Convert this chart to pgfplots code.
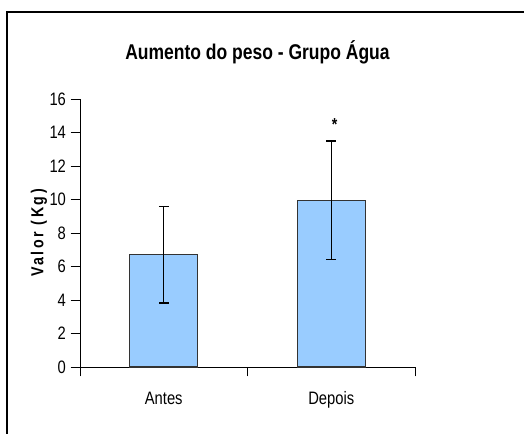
\documentclass[border=0pt]{standalone}
\usepackage{pgfplots}
\pgfplotsset{compat=1.18}
\usepackage{fontspec}
\setmainfont{Liberation Sans}[FakeStretch=0.82]
\definecolor{barblue}{HTML}{99CCFF}
\begin{document}
\begin{tikzpicture}[x=1pt,y=1pt]
\useasboundingbox (0,0) rectangle (393,325.5);
\draw[line width=1.1pt] (5.25,-5) -- (5.25,316.5) -- (400,316.5);
\node[font=\fontsize{16}{18}\selectfont\bfseries] at (193.1,286.5) {Aumento do peso - Grupo Água};
\begin{axis}[
  at={(60pt,50.25pt)}, anchor=origin,
  width=251.25pt, height=201pt, scale only axis,
  xmin=0, xmax=2, ymin=0, ymax=16,
  axis x line*=bottom, axis y line*=left,
  axis line style={black, line width=0.7pt},
  ytick={0,2,...,16},
  xtick={0.5,1.5}, xticklabels={Antes,Depois},
  minor xtick={0,1,2},
  major x tick style={draw=none},
  tick align=outside,
  major tick length=7pt, minor tick length=7pt,
  tick style={black, line width=0.7pt},
  /pgf/number format/assume math mode=true,
  ticklabel style={font=\fontsize{13.5}{15}\selectfont},
  xticklabel style={yshift=-8pt},
  ylabel={\addfontfeatures{LetterSpace=15}Valor (Kg)},
  ylabel style={font=\fontsize{13}{15}\selectfont\bfseries, yshift=-5pt},
  clip=false,
]
\addplot[ybar, bar width=51pt, fill=barblue, draw=black!80, line width=1pt,
  error bars/.cd, y dir=both, y explicit,
  error bar style={black, line width=0.9pt},
  error mark options={rotate=90, mark size=3.6pt, line width=1.1pt, black}]
  coordinates {(0.5,6.7) +- (0,2.87) (1.5,9.95) +- (0,3.53)};
\node[font=\fontsize{13}{14}\selectfont\bfseries] at (axis cs:1.52,14.45) {*};
\end{axis}
\end{tikzpicture}
\end{document}
